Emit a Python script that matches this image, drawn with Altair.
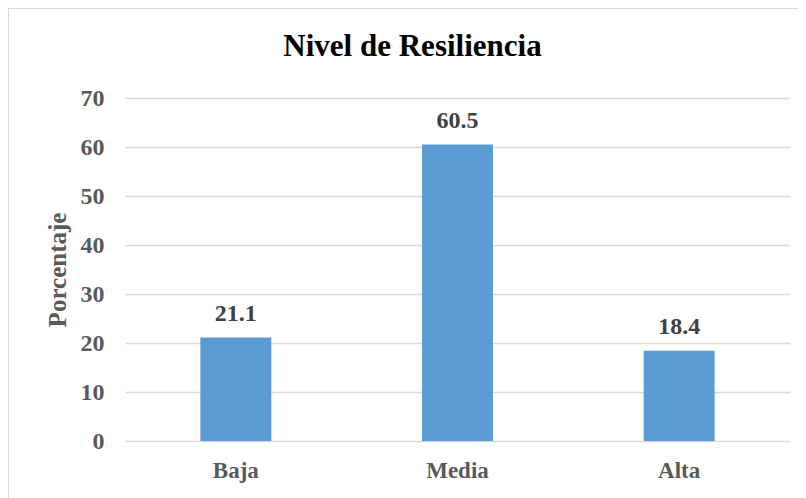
import altair as alt
import pandas as pd

categories = ["Baja", "Media", "Alta"]
values = [21.1, 60.5, 18.4]
labels = ["21.1", "60.5", "18.4"]

df = pd.DataFrame({"nivel": categories, "pct": values, "label": labels})

FONT = "Liberation Serif"

x_enc = alt.X("nivel:N", sort=categories, title=None,
              scale=alt.Scale(paddingInner=0.68, paddingOuter=0.34),
              axis=alt.Axis(labelAngle=0, labelFont=FONT, labelFontSize=23,
                            labelFontWeight="bold", labelColor="#595959",
                            labelBaseline="alphabetic", labelPadding=36,
                            ticks=False, domain=False))
y_enc = alt.Y("pct:Q", title="Porcentaje",
              scale=alt.Scale(domain=[0, 70]),
              axis=alt.Axis(values=[0, 10, 20, 30, 40, 50, 60, 70],
                            labelFont=FONT, labelFontSize=24, labelFontWeight="bold",
                            labelColor="#595959", labelPadding=21, ticks=False,
                            domain=False, gridColor="#D9D9D9", gridWidth=1.5,
                            titleFont=FONT, titleFontSize=25, titleFontWeight="bold",
                            titleColor="#595959", titlePadding=10))

bars = alt.Chart(df).mark_bar(color="#5B9BD5").encode(x=x_enc, y=y_enc)

text = alt.Chart(df).mark_text(font=FONT, fontSize=24, fontWeight="bold",
                               color="#404040", baseline="alphabetic", dy=-17).encode(
    x=alt.X("nivel:N", sort=categories), y="pct:Q", text="label:N")

border = alt.Chart(df).mark_rect(fill=None, stroke="#D9D9D9", strokeWidth=1).encode(
    x=alt.value(-116.5), x2=alt.value(700), y=alt.value(-89.5), y2=alt.value(440))

chart = alt.layer(border, bars, text).properties(
    width=665, height=343,
    title=alt.TitleParams("Nivel de Resiliencia", font=FONT, fontSize=31,
                          fontWeight="bold", color="#000000", offset=-55, dx=-45),
    autosize=alt.AutoSizeParams(type="none"),
    padding={"left": 117, "top": 90, "right": 8, "bottom": 60},
).configure_view(stroke=None)

chart.save("out.html", embed_options={"renderer": "svg", "actions": False})
